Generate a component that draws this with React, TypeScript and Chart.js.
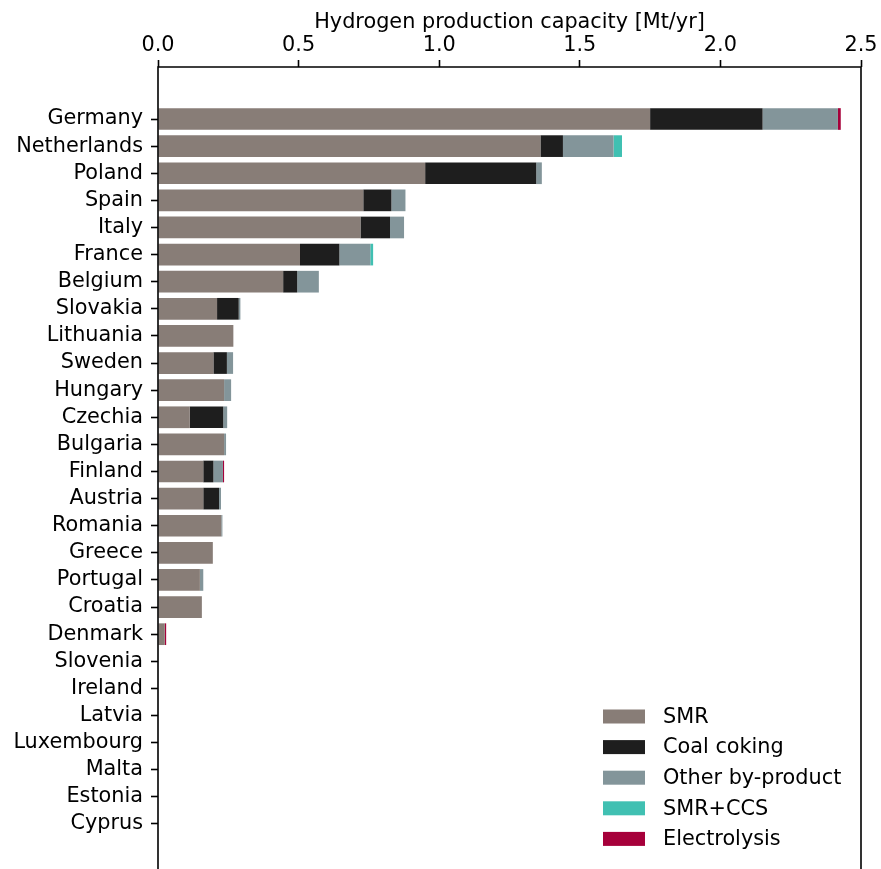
import React, { useEffect, useRef } from "react";
import { Chart, registerables } from "chart.js";

Chart.register(...registerables);

// Countries, top to bottom
const countries = [
  "Germany", "Netherlands", "Poland", "Spain", "Italy", "France", "Belgium",
  "Slovakia", "Lithuania", "Sweden", "Hungary", "Czechia", "Bulgaria", "Finland",
  "Austria", "Romania", "Greece", "Portugal", "Croatia", "Denmark", "Slovenia",
  "Ireland", "Latvia", "Luxembourg", "Malta", "Estonia", "Cyprus",
];

// Capacity by production route [Mt/yr]
const smr = [
  1.75, 1.36, 0.95, 0.73, 0.72, 0.505, 0.445, 0.21, 0.268, 0.197, 0.235, 0.113, 0.235,
  0.161, 0.161, 0.225, 0.195, 0.149, 0.156, 0.024, 0, 0, 0, 0, 0, 0, 0,
];
const coalCoking = [
  0.4, 0.08, 0.395, 0.1, 0.105, 0.14, 0.05, 0.077, 0, 0.048, 0, 0.119, 0,
  0.036, 0.056, 0, 0, 0, 0, 0, 0, 0, 0, 0, 0, 0, 0,
];
const otherByProduct = [
  0.268, 0.18, 0.02, 0.05, 0.05, 0.11, 0.077, 0.006, 0, 0.022, 0.025, 0.014, 0.007,
  0.034, 0.007, 0.004, 0, 0.012, 0, 0, 0, 0, 0, 0, 0, 0, 0,
];
const smrCcs = [
  0, 0.03, 0, 0, 0, 0.01, 0, 0, 0, 0, 0, 0, 0,
  0, 0, 0, 0, 0, 0, 0, 0, 0, 0, 0, 0, 0, 0,
];
const electrolysis = [
  0.01, 0, 0, 0, 0, 0, 0, 0, 0, 0, 0, 0, 0,
  0.004, 0, 0, 0, 0, 0, 0.005, 0, 0, 0, 0, 0, 0, 0,
];

const seriesLabels = ["SMR", "Coal coking", "Other by-product", "SMR+CCS", "Electrolysis"];
const seriesColors = ["#887d77", "#1e1e1e", "#83959a", "#40c0b2", "#a6003a"];
const seriesValues = [smr, coalCoking, otherByProduct, smrCcs, electrolysis];

const xTicks = [0, 0.5, 1.0, 1.5, 2.0, 2.5];
const xTitle = "Hydrogen production capacity [Mt/yr]";

const FONT = "DejaVu Sans";
const FONT_SIZE = 20.8;

// Axes frame (top, left, right spines) drawn past the bottom of the canvas
const spinesPlugin = {
  id: "spines",
  afterDraw(chart: any) {
    const { ctx, chartArea } = chart;
    ctx.save();
    ctx.strokeStyle = "#000";
    ctx.lineWidth = 1.6;
    ctx.beginPath();
    ctx.moveTo(chartArea.left, chart.height + 2);
    ctx.lineTo(chartArea.left, chartArea.top);
    ctx.lineTo(chartArea.right, chartArea.top);
    ctx.lineTo(chartArea.right, chart.height + 2);
    ctx.stroke();
    ctx.restore();
  },
};

// Frameless legend in the lower-right corner of the plot
const legendPlugin = {
  id: "cornerLegend",
  afterDatasetsDraw(chart: any) {
    const { ctx, chartArea } = chart;
    const x0 = chartArea.right - 258;
    const y0 = chartArea.bottom - 152.5;
    const step = 30.6;
    ctx.save();
    ctx.font = `${FONT_SIZE}px "${FONT}"`;
    ctx.textBaseline = "middle";
    ctx.textAlign = "left";
    chart.data.datasets.forEach((ds: any, i: number) => {
      const cy = y0 + i * step;
      ctx.fillStyle = ds.backgroundColor;
      ctx.fillRect(x0, cy - 7, 42, 14);
      ctx.fillStyle = "#000";
      ctx.fillText(ds.label, x0 + 60, cy + 1);
    });
    ctx.restore();
  },
};

export default function App() {
  const canvasRef = useRef<HTMLCanvasElement | null>(null);

  useEffect(() => {
    const canvas = canvasRef.current;
    if (!canvas) return;
    Chart.defaults.font.family = FONT;
    Chart.defaults.font.size = FONT_SIZE;
    Chart.defaults.color = "#000";

    const chart = new Chart(canvas, {
      type: "bar",
      data: {
        datasets: seriesLabels.map((label, k) => ({
          label,
          data: countries.map((_, i) => ({ x: seriesValues[k][i], y: i })),
          backgroundColor: seriesColors[k],
          borderWidth: 0,
          barPercentage: 0.8,
          categoryPercentage: 1.0,
        })),
      },
      options: {
        indexAxis: "y",
        responsive: false,
        animation: false,
        events: [],
        layout: { padding: { left: 0, right: 20, top: 0, bottom: 0 } },
        plugins: {
          legend: { display: false },
          tooltip: { enabled: false },
        },
        scales: {
          x: {
            type: "linear",
            position: "top",
            stacked: true,
            min: 0,
            max: 2.5,
            offset: false,
            afterBuildTicks: (scale: any) => {
              scale.ticks = xTicks.map((v) => ({ value: v }));
            },
            afterFit: (scale: any) => {
              scale.height = 67;
            },
            ticks: {
              padding: 2,
              maxRotation: 0,
              autoSkip: false,
              callback: (v: any) => Number(v).toFixed(1),
              font: { family: FONT, size: FONT_SIZE },
              color: "#000",
            },
            grid: {
              offset: false,
              drawOnChartArea: false,
              drawTicks: true,
              tickLength: 7,
              tickWidth: 1.6,
              tickColor: "#000",
            },
            border: { display: false },
            title: {
              display: true,
              text: xTitle,
              color: "#000",
              font: { family: FONT, size: FONT_SIZE },
              padding: { top: 10, bottom: 0 },
            },
          },
          y: {
            type: "linear",
            reverse: true,
            stacked: true,
            offset: false,
            min: -1.918,
            max: 27.66,
            afterBuildTicks: (scale: any) => {
              scale.ticks = countries.map((_, i) => ({ value: i }));
            },
            afterFit: (scale: any) => {
              scale.width = 158;
              scale.paddingTop = 0;
              scale.paddingBottom = 0;
            },
            ticks: {
              padding: 8,
              autoSkip: false,
              callback: (v: any) => countries[Number(v)] ?? "",
              font: { family: FONT, size: FONT_SIZE },
              color: "#000",
            },
            grid: {
              offset: false,
              drawOnChartArea: false,
              drawTicks: true,
              tickLength: 7,
              tickWidth: 1.6,
              tickColor: "#000",
            },
            border: { display: false },
          },
        },
      } as any,
      plugins: [spinesPlugin, legendPlugin],
    });

    return () => chart.destroy();
  }, []);

  return (
    <div style={{ position: "absolute", left: 0, top: 0, width: 881, height: 869, background: "#fff" }}>
      <canvas ref={canvasRef} width={881} height={869} style={{ width: 881, height: 869, display: "block" }} />
    </div>
  );
}
